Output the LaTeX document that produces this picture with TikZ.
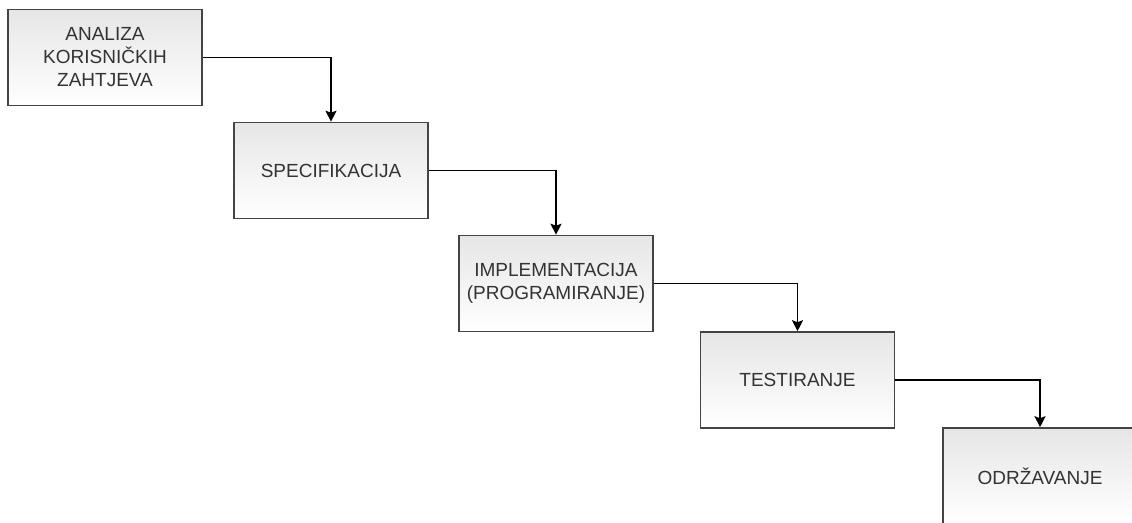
\documentclass[tikz,border=0pt]{standalone}
\usepackage{fontspec}
\setmainfont{Liberation Sans}
\usetikzlibrary{arrows.meta,positioning}

\definecolor{boxline}{HTML}{444444}
\definecolor{boxtext}{HTML}{333333}
\definecolor{boxtop}{HTML}{E6E6E6}

\tikzset{
  phase/.style={draw=boxline, line width=1.6pt, top color=boxtop, bottom color=white,
    minimum width=194pt, minimum height=96pt, inner sep=0pt, align=center,
    text=boxtext, font=\fontsize{19}{23}\selectfont},
  flow/.style={->, line width=1.5pt, black},
}

\begin{document}
\begin{tikzpicture}[>={Stealth[length=11pt,width=11pt,inset=2pt]}]
\useasboundingbox (0pt,0pt) rectangle (1132pt,-522pt);
%%
  \node (anal) at (105pt,-57.5pt) [phase] {ANALIZA\\KORISNIČKIH\\ZAHTJEVA};
  \node (spec) at (331pt,-170.5pt) [phase] {SPECIFIKACIJA};
  \node (impl) at (556pt,-283.5pt) [phase] {IMPLEMENTACIJA\\(PROGRAMIRANJE)};
  \node (test) at (797.5pt,-380pt) [phase] {TESTIRANJE};
  \node (odrz) at (1040pt,-476pt) [phase] {ODRŽAVANJE};
  \draw [flow] (anal) -| (spec);
  \draw [flow] (spec) -| (impl);
  \draw [flow] (impl) -| (test);
  \draw [flow] (test) -| (odrz);
%
\end{tikzpicture}
\end{document}
